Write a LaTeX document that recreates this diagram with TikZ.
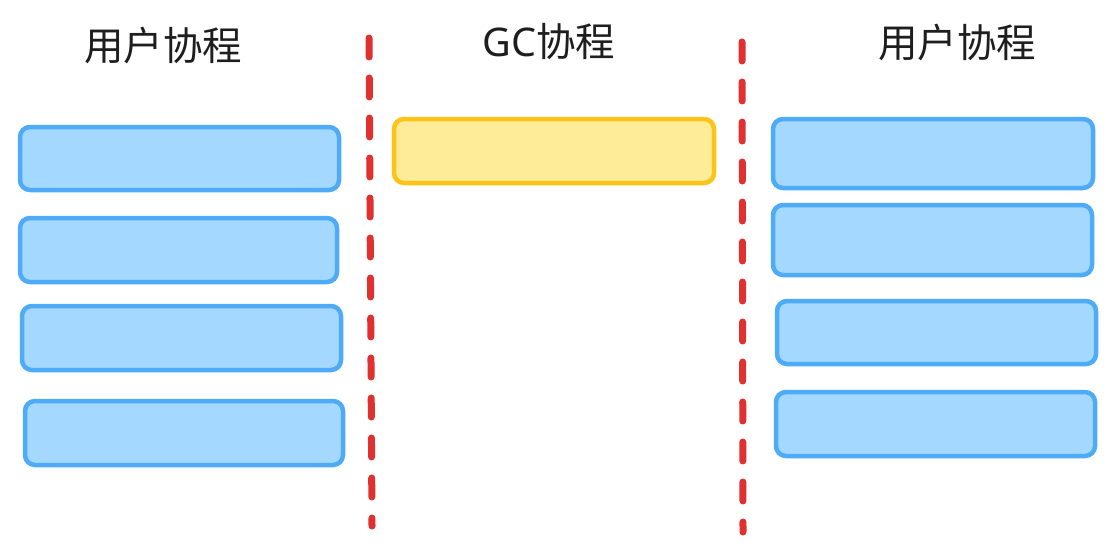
\documentclass[tikz,border=0pt]{standalone}
\usepackage{fontspec}
\newfontfamily\cjk{Noto Sans CJK SC}
\newfontfamily\gcfont{Noto Sans}
\definecolor{bluefill}{HTML}{A5D8FF}
\definecolor{bluestroke}{HTML}{4DABF7}
\definecolor{yelfill}{HTML}{FFEC99}
\definecolor{yelstroke}{HTML}{FCC419}
\definecolor{redline}{HTML}{E03131}
\definecolor{txt}{HTML}{1E1E1E}
\tikzset{
  bbox/.style={draw=bluestroke, fill=bluefill, line width=4.5pt, rounded corners=10pt, inner sep=0pt},
  ybox/.style={draw=yelstroke, fill=yelfill, line width=4.5pt, rounded corners=10pt, inner sep=0pt},
  sep/.style={draw=redline, line width=7pt, line cap=round, dash pattern=on 19pt off 21pt},
  title/.style={text=txt, font=\cjk\fontsize{39.5}{42}\selectfont, inner sep=0pt}
}
\begin{document}
\begin{tikzpicture}[x=1pt,y=-1pt]
\useasboundingbox[fill=white] (0,0) rectangle (1115,551);
% titles
\node[title] (t1) at (163,46) {用户协程};
\node[title] (t2) at (549,42) {{\gcfont\bfseries GC}协程};
\node[title] (t3) at (957,43) {用户协程};
% separators
\coordinate (s1a) at (369,38);
\coordinate (s1b) at (372,526);
\coordinate (s2a) at (742,42);
\coordinate (s2b) at (743,532);
\draw[sep] (s1a) -- (s1b);
\draw[sep] (s2a) -- (s2b);
% left boxes
\node[bbox, minimum width=319pt, minimum height=63pt] (l1) at (179.5,158.5) {};
\node[bbox, minimum width=317pt, minimum height=64pt] (l2) at (178.5,250) {};
\node[bbox, minimum width=319pt, minimum height=64pt] (l3) at (181.5,338) {};
\node[bbox, minimum width=318pt, minimum height=64pt] (l4) at (184,433) {};
% GC box
\node[ybox, minimum width=320pt, minimum height=64pt] (g1) at (554,151) {};
% right boxes
\node[bbox, minimum width=320pt, minimum height=69pt] (r1) at (933,153.5) {};
\node[bbox, minimum width=319pt, minimum height=70pt] (r2) at (932.5,240) {};
\node[bbox, minimum width=319pt, minimum height=63pt] (r3) at (936.5,332.5) {};
\node[bbox, minimum width=319pt, minimum height=64pt] (r4) at (935.5,424) {};
\end{tikzpicture}
\end{document}
